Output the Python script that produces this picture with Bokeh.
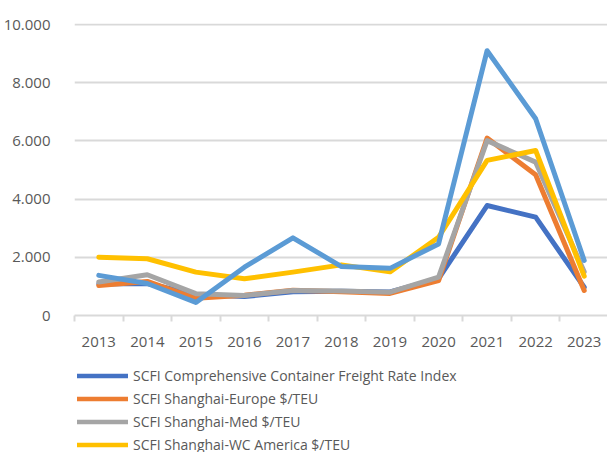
from bokeh.plotting import figure
from bokeh.layouts import column
from bokeh.models import Range1d, FixedTicker, Legend, LegendItem
from bokeh.embed import file_html
from bokeh.resources import INLINE

years = ["2013", "2014", "2015", "2016", "2017", "2018", "2019", "2020", "2021", "2022", "2023"]

comprehensive = [1080, 1100, 720, 650, 820, 830, 810, 1270, 3780, 3380, 970]
europe = [1030, 1170, 590, 700, 870, 820, 760, 1200, 6100, 4840, 860]
med = [1150, 1400, 750, 690, 860, 840, 800, 1320, 6010, 5270, 1500]
wc_america = [2000, 1950, 1490, 1260, 1490, 1740, 1500, 2690, 5330, 5670, 1350]
us_coast = [1380, 1100, 450, 1660, 2670, 1680, 1620, 2460, 9100, 6760, 1890]

y_ticks = [0, 2000, 4000, 6000, 8000, 10000]
y_labels = ["0", "2.000", "4.000", "6.000", "8.000", "10.000"]

series = [
    ("SCFI Comprehensive Container Freight Rate Index", comprehensive, "#4472C4"),
    ("SCFI Shanghai-Europe $/TEU", europe, "#ED7D31"),
    ("SCFI Shanghai-Med $/TEU", med, "#A5A5A5"),
    ("SCFI Shanghai-WC America $/TEU", wc_america, "#FFC000"),
]
extra = ("SCFI Shanghai-US Coast $/FEU", us_coast, "#5B9BD5")

xs = [i + 0.5 for i in range(len(years))]
bounds = [i for i in range(len(years) + 1)]

FONT = "Open Sans"
TXT = "#595959"
GRID = "#D9D9D9"

p = figure(width=607, height=358, output_backend="svg", toolbar_location=None,
           x_range=Range1d(0, 10.98), y_range=Range1d(0, 10035),
           min_border_left=67, min_border_right=0, min_border_top=23, min_border_bottom=43)
p.outline_line_color = None
p.background_fill_color = "white"
p.border_fill_color = "white"

# x axis
p.xaxis.ticker = FixedTicker(ticks=xs, minor_ticks=bounds)
p.xaxis.major_label_overrides = {x: y for x, y in zip(xs, years)}
p.xaxis.major_tick_out = 0
p.xaxis.major_tick_in = 0
p.xaxis.minor_tick_out = 6
p.xaxis.minor_tick_in = 0
p.xaxis.minor_tick_line_color = GRID
p.xaxis.minor_tick_line_width = 2
p.xaxis.axis_line_color = GRID
p.xaxis.axis_line_width = 2
p.xaxis.major_label_standoff = 15
p.xaxis.major_label_text_font = FONT
p.xaxis.major_label_text_font_size = "15px"
p.xaxis.major_label_text_color = TXT
p.xgrid.grid_line_color = None

# y axis
p.yaxis.ticker = FixedTicker(ticks=y_ticks)
p.yaxis.major_label_overrides = {t: l for t, l in zip(y_ticks, y_labels)}
p.yaxis.axis_line_color = None
p.yaxis.major_tick_line_color = None
p.yaxis.minor_tick_line_color = None
p.yaxis.major_label_standoff = 18
p.yaxis.major_label_text_font = FONT
p.yaxis.major_label_text_font_size = "15px"
p.yaxis.major_label_text_color = TXT
p.ygrid.ticker = FixedTicker(ticks=y_ticks[1:])
p.ygrid.grid_line_color = GRID
p.ygrid.grid_line_width = 2

for name, vals, col in series + [extra]:
    p.line(xs, vals, line_color=col, line_width=5, line_join="round", line_cap="round")

# legend strip below the chart (same series, drawn outside its visible range)
q = figure(width=607, height=94, output_backend="svg", toolbar_location=None,
           x_range=Range1d(0, 10.98), y_range=Range1d(20000, 30000),
           min_border_left=0, min_border_right=0, min_border_top=0, min_border_bottom=0)
q.axis.visible = False
q.grid.visible = False
q.outline_line_color = None
q.background_fill_color = "white"
q.border_fill_color = "white"

items = []
for name, vals, col in series:
    r = q.line(xs, vals, line_color=col, line_width=4.5, line_cap="round")
    items.append(LegendItem(label=name, renderers=[r]))

legend = Legend(items=items, location=(3, -4), orientation="vertical",
                padding=0, margin=0, spacing=0, label_height=23, glyph_height=23,
                glyph_width=51, label_standoff=5,
                label_text_font=FONT, label_text_font_size="14px", label_text_color=TXT,
                border_line_color=None, background_fill_alpha=0)
q.add_layout(legend, "center")

layout = column(p, q, spacing=0)
open("out.html", "w").write(file_html(layout, INLINE))
